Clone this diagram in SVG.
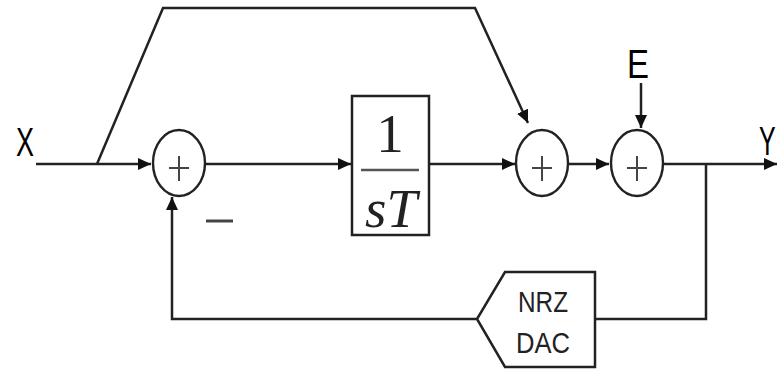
<svg xmlns="http://www.w3.org/2000/svg" width="777" height="370" viewBox="0 0 777 370">
<style>
  .ln { fill: none; stroke: #222; stroke-width: 2.5; }
  .sum { fill: #fff; stroke: #222; stroke-width: 2.4; }
  .plus { stroke: #444; stroke-width: 2; }
  .blk { fill: #fff; stroke: #222; stroke-width: 2.5; }
  .lbl { font-family: "Liberation Sans", Arial, sans-serif; font-size: 41px; fill: #000; }
  .dac { font-family: "Liberation Sans", Arial, sans-serif; font-size: 29px; fill: #222; }
  .math { font-family: "Liberation Serif", "Times New Roman", serif; font-size: 55px; fill: #222; }
</style>
<defs>
  <marker id="ah" markerUnits="userSpaceOnUse" markerWidth="14" markerHeight="12" refX="13" refY="6" orient="auto">
    <path d="M0,0 L13,6 L0,12 z" fill="#111"/>
  </marker>
</defs>
<g id="connectors">
  <path class="ln" d="M36 164 H151" marker-end="url(#ah)"/>
  <path class="ln" d="M97 164 L163 8 H475 L528 123" marker-end="url(#ah)"/>
  <path class="ln" d="M205 164 H351" marker-end="url(#ah)"/>
  <path class="ln" d="M429 164 H515" marker-end="url(#ah)"/>
  <path class="ln" d="M569 164 H609" marker-end="url(#ah)"/>
  <path class="ln" d="M641 83 V128" marker-end="url(#ah)"/>
  <path class="ln" d="M664 164 H777" marker-end="url(#ah)"/>
  <path class="ln" d="M706 164 V319 H595"/>
  <path class="ln" d="M477 319 H172 V197" marker-end="url(#ah)"/>
</g>
<g id="label-X"><text class="lbl" x="16" y="156" textLength="18" lengthAdjust="spacingAndGlyphs">X</text></g>
<g id="label-E"><text class="lbl" x="627" y="78" textLength="22" lengthAdjust="spacingAndGlyphs">E</text></g>
<g id="label-Y"><text class="lbl" style="font-size:25px" transform="translate(759,155) scale(1,1.64)" x="0" y="0">Y</text></g>
<g id="sum1">
  <ellipse class="sum" cx="179" cy="163" rx="26" ry="33"/>
  <path class="plus" d="M169 168 H189 M179 156 V181"/>
</g>
<g id="minus"><path d="M206 221 H233" stroke="#444" stroke-width="3"/></g>
<g id="integrator">
  <rect class="blk" x="352" y="96" width="77" height="139"/>
  <text class="math" x="390" y="152" text-anchor="middle">1</text>
  <path d="M361 170 H419" stroke="#555" stroke-width="2.5"/>
  <text class="math" x="391" y="227" text-anchor="middle" font-style="italic">sT</text>
</g>
<g id="sum2">
  <ellipse class="sum" cx="542" cy="163" rx="26" ry="33"/>
  <path class="plus" d="M532 168 H552 M542 156 V181"/>
</g>
<g id="sum3">
  <ellipse class="sum" cx="637" cy="163" rx="26" ry="33"/>
  <path class="plus" d="M627 168 H647 M637 156 V181"/>
</g>
<g id="dac">
  <path class="blk" d="M505 272 H595 V367 H505 L477 319 Z"/>
  <text class="dac" x="518" y="312" textLength="50" lengthAdjust="spacingAndGlyphs">NRZ</text>
  <text class="dac" x="516" y="353" textLength="54" lengthAdjust="spacingAndGlyphs">DAC</text>
</g>
</svg>
